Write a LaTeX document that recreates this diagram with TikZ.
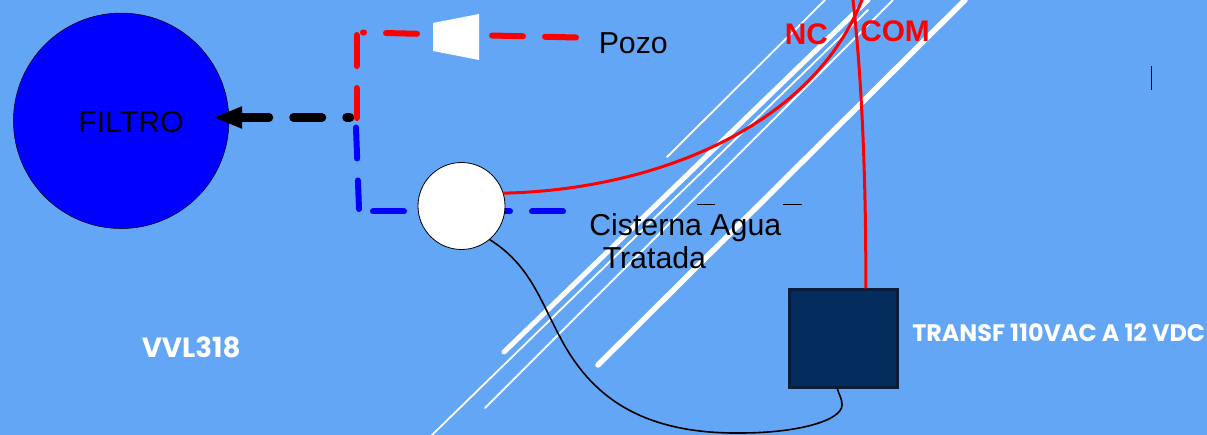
\documentclass[tikz,border=0pt]{standalone}
\usepackage{fontspec}
\usetikzlibrary{arrows.meta}
\setmainfont{Liberation Sans}
\newfontfamily\gothicfont{Poppins}
\definecolor{fondoazul}{HTML}{63A6F6}
\definecolor{cajaazul}{HTML}{042C5C}
\definecolor{bordecaja}{HTML}{0A1E3C}
\tikzset{every picture/.style={line width=0.5pt}}
\tikzset{
  tubo/.style={line width=6pt,line cap=round,dash pattern=on 31pt off 22pt},
  cable/.style={red,line width=3pt},
  raya/.style={white,line cap=round},
  texto/.style={anchor=base west,inner sep=0pt,font=\fontsize{30.3pt}{31pt}\selectfont},
  rotulo/.style={anchor=base west,inner sep=0pt,red,font=\fontsize{29.8pt}{31pt}\selectfont\bfseries},
  blanco/.style={anchor=base west,inner sep=0pt,white,font=\gothicfont\bfseries},
}

\begin{document}
\begin{tikzpicture}[x=1pt,y=1pt,yscale=-1,xscale=1]
\fill[fondoazul] (0,0) rectangle (1207,435);
\useasboundingbox (0,0) rectangle (1207,435);

%Straight Lines
\draw[raya,line width=1.8pt] (667,157) -- (825,0);
\draw[raya,line width=5pt] (504,352) -- (868,0);
\draw[raya,line width=1.8pt] (432,435) -- (868,10);
\draw[raya,line width=1.8pt] (485,408) -- (893,0);
\draw[raya,line width=5.5pt] (598,365) -- (965,0);

%Shape: Circle
\node[circle,draw=black,fill=blue,minimum size=215.5pt,inner sep=0pt] (filtro) at (121.2,120.8) {};
\coordinate (filtroin) at (213,117.5);
\coordinate (union) at (350,117.5);
\draw[black,line width=8.5pt,line cap=round,dash pattern=on 28.5pt off 24.5pt,dash phase=25pt,
  -{Triangle[length=29pt,width=20pt]}] (union) -- (filtroin);

%Red pipe
\coordinate (pozoin) at (576,37.5);
\coordinate (pozoesq) at (363,32.5);
\coordinate (rojoa) at (356.5,35);
\coordinate (rojob) at (356.5,118);
\draw[tubo,red] (pozoin) -- (pozoesq);
\draw[tubo,red] (rojoa) -- (rojob);

%Shape: Polygon
\fill[white] (433,23) -- (479,14) -- (479,60) -- (433,51) -- cycle;

%Blue pipe
\coordinate (azula) at (356,127.5);
\coordinate (azulb) at (359,209);
\coordinate (azulc) at (373,211.5);
\coordinate (azuld) at (564,211.5);
\draw[tubo,blue] (azula) -- (azulb);
\draw[tubo,blue] (azulc) -- (azuld);

%Shape: Circle
\node[circle,draw=black,fill=white,line width=0.8pt,minimum size=87pt,inner sep=0pt] (sensor) at (461.5,206) {};
%Shape: Square
\node[rectangle,draw=bordecaja,fill=cajaazul,line width=2.4pt,minimum width=108pt,minimum height=98pt,inner sep=0pt] (transf) at (843.5,338.5) {};

%Curves
\coordinate (salnc) at (862,0);
\coordinate (salcom) at (853,0);
\draw[cable] (sensor.17) .. controls (650,190) and (810,130) .. (salnc);
\draw[cable] (transf.66) .. controls (866,180) and (862,80) .. (salcom);
\draw[black,line width=1.6pt] (sensor.-50) .. controls (530,265) and (540,300) .. (560,337) .. controls (590,395) and (640,434) .. (740,433) .. controls (800,433) and (842,420) .. (842,405) .. controls (842,398) and (839,395) .. (transf.-97.5);

%Straight Lines
\coordinate (marcaa) at (697,205);
\coordinate (marcab) at (715,205);
\coordinate (marcac) at (783,205);
\coordinate (marcad) at (802,205);
\coordinate (marcae) at (1151.5,66);
\coordinate (marcaf) at (1151.5,90);
\draw[black,line width=1pt] (marcaa) -- (marcab);
\draw[black,line width=1pt] (marcac) -- (marcad);
\draw[black,line width=1pt] (marcae) -- (marcaf);

% Text Node
\node[texto] (tfiltro) at (78,133) {FILTRO};
% Text Node
\node[texto] (tpozo) at (598.5,53.5) {Pozo};
% Text Node
\node[texto] (tcisterna) at (589,235.8) {Cisterna Agua};
% Text Node
\node[texto] (ttratada) at (602.5,268.8) {Tratada};
% Text Node
\node[rotulo] (tnc) at (784.5,45) {NC};
% Text Node
\node[rotulo] (tcom) at (860,41.5) {COM};
% Text Node
\node[blanco,font=\gothicfont\bfseries\fontsize{27.7pt}{29pt}\selectfont] (tvvl) at (141.5,358) {VVL318};
% Text Node
\node[blanco,font=\gothicfont\bfseries\fontsize{23.85pt}{25pt}\selectfont] (ttransf) at (912,341.3) {TRANSF 110VAC A 12 VDC};

\end{tikzpicture}
\end{document}
